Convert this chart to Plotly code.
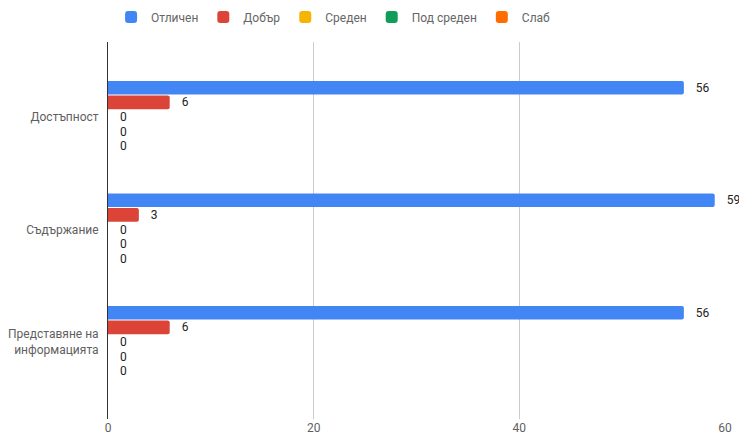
import plotly.graph_objects as go

categories = ["Достъпност", "Съдържание", "Представяне на<br>информацията"]
series_names = ["Отличен", "Добър", "Среден", "Под среден", "Слаб"]
otlichen = [56, 59, 56]
dobar = [6, 3, 6]
sreden = [0, 0, 0]
pod_sreden = [0, 0, 0]
slab = [0, 0, 0]
x_ticks = [0, 20, 40, 60]

colors = ["#4285F4", "#DB4437", "#F4B400", "#0F9D58", "#FF6D01"]
values = [otlichen, dobar, sreden, pod_sreden, slab]

fig = go.Figure()
for name, vals, color in zip(series_names, values, colors):
    fig.add_trace(go.Bar(
        y=categories,
        x=vals,
        name=name,
        orientation="h",
        marker=dict(color=color, cornerradius=2, line=dict(width=0)),
        text=["   " + str(v) for v in vals],
        textposition="outside",
        constraintext="none",
        textfont=dict(family="Roboto", size=12, color="#222222"),
        cliponaxis=False,
    ))

fig.update_layout(
    width=739,
    height=437,
    margin=dict(l=108, r=14, t=42, b=18, autoexpand=False),
    paper_bgcolor="white",
    plot_bgcolor="white",
    barmode="group",
    bargap=0.35,
    bargroupgap=0.07,
    font=dict(family="Roboto", size=12, color="#5f5f5f"),
    legend=dict(
        orientation="h",
        x=0.005,
        xanchor="left",
        y=1.066,
        yanchor="middle",
        font=dict(family="Roboto", size=12, color="#666666"),
        itemwidth=30,
    ),
    xaxis=dict(
        range=[0, 60],
        tickvals=x_ticks,
        showgrid=True,
        gridcolor="#cccccc",
        gridwidth=1,
        zeroline=False,
        showline=False,
        ticks="",
        tickfont=dict(family="Roboto", size=12, color="#5f5f5f"),
    ),
    yaxis=dict(
        range=[2.684, -0.667],
        showgrid=False,
        zeroline=False,
        showline=True,
        linecolor="#333333",
        linewidth=1,
        ticks="",
        ticklabelstandoff=6,
        tickfont=dict(family="Roboto", size=12, color="#5f5f5f"),
    ),
)

fig.write_html("out.html")
